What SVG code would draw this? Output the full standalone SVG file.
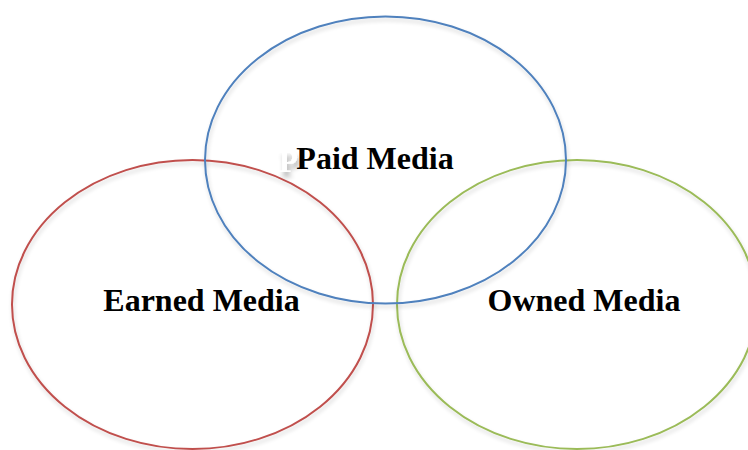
<svg xmlns="http://www.w3.org/2000/svg" width="748" height="450" viewBox="0 0 748 450">
  <defs>
    <filter id="soft" x="-10%" y="-10%" width="120%" height="130%">
      <feGaussianBlur in="SourceAlpha" stdDeviation="2"/>
      <feOffset dx="1" dy="3" result="b"/>
      <feComponentTransfer in="b" result="s">
        <feFuncA type="linear" slope="0.18"/>
      </feComponentTransfer>
      <feMerge><feMergeNode in="s"/><feMergeNode in="SourceGraphic"/></feMerge>
    </filter>
    <filter id="ghost" x="-40%" y="-30%" width="180%" height="170%">
      <feGaussianBlur in="SourceAlpha" stdDeviation="2.5"/>
      <feOffset dx="2" dy="5" result="b"/>
      <feComponentTransfer in="b" result="s">
        <feFuncA type="linear" slope="0.3"/>
      </feComponentTransfer>
      <feMerge><feMergeNode in="s"/><feMergeNode in="SourceGraphic"/></feMerge>
    </filter>
  </defs>
  <style>
    .ring { fill: none; stroke-width: 2; }
    .label { font-family: "Liberation Serif", "Times New Roman", serif; font-weight: bold; font-size: 32px; fill: #000; text-anchor: middle; }
  </style>
  <rect width="748" height="450" fill="#fff"/>

  <g id="earned">
    <ellipse class="ring" cx="192.5" cy="304.5" rx="180.5" ry="144.5" stroke="#C0504D" filter="url(#soft)"/>
    <text class="label" x="201.5" y="311">Earned Media</text>
  </g>
  <g id="owned">
    <ellipse class="ring" cx="577" cy="304.5" rx="180" ry="144.5" stroke="#9BBB59" filter="url(#soft)"/>
    <text class="label" x="584" y="311">Owned Media</text>
  </g>
  <g id="paid">
    <ellipse class="ring" cx="385.5" cy="160" rx="180.5" ry="143.5" stroke="#4F81BD" filter="url(#soft)"/>
    <!-- faint white echo of the title, offset to the left -->
    <text x="279" y="172" font-family="Liberation Serif, serif" font-weight="bold" font-size="31" fill="#fff" filter="url(#ghost)">P</text>
    <text class="label" x="375" y="169">Paid Media</text>
  </g>
  <g id="connectors"/>
</svg>
